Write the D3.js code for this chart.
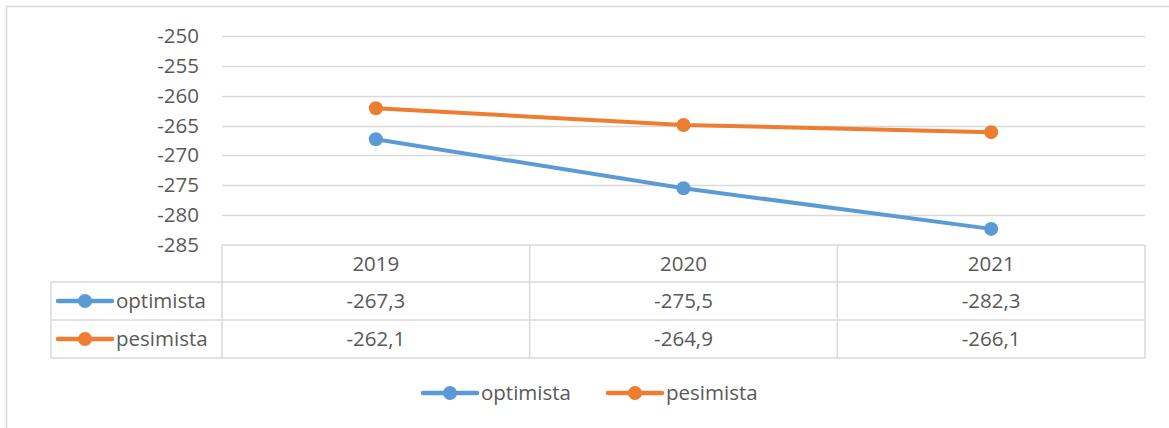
<!DOCTYPE html>
<html><head><meta charset="utf-8">
<script src="https://cdn.jsdelivr.net/npm/d3@7"></script>
<style>body{margin:0;background:#fff;} text{font-family:"Open Sans",Lato,sans-serif;fill:#595959;}</style>
</head><body><svg id="c" width="1169" height="428"></svg>
<script>
const categories = ["2019","2020","2021"];
const seriesNames = ["optimista","pesimista"];
const optimista = [-267.3,-275.5,-282.3];
const pesimista = [-262.1,-264.9,-266.1];
const tableLabels = [["-267,3","-275,5","-282,3"],["-262,1","-264,9","-266,1"]];
const yTicks = [-250,-255,-260,-265,-270,-275,-280,-285];
const colors = ["#5B9BD5","#ED7D31"];

const svg = d3.select("#c");
const grid = "#d9d9d9";
const fs = 20.5;
const ff = "'Open Sans',Lato,sans-serif";
svg.append("rect").attr("x",6.5).attr("y",6.5).attr("width",1200).attr("height",500)
  .attr("fill","none").attr("stroke",grid).attr("stroke-width",1.5);

const x0 = 222, x1 = 1145, yTop = 36, yBot = 245;
const x = d3.scaleBand().domain(categories).range([x0,x1]);
const y = d3.scaleLinear().domain([-285,-250]).range([yBot,yTop]);

// gridlines
svg.append("g").selectAll("line").data(yTicks.filter(d=>d!==-285)).join("line")
  .attr("x1",x0).attr("x2",x1).attr("y1",d=>Math.round(y(d))+0.5).attr("y2",d=>Math.round(y(d))+0.5)
  .attr("stroke",grid).attr("stroke-width",1.5);
// y axis labels
const yAxis = d3.axisLeft(y).tickValues(yTicks).tickSize(0).tickPadding(0).tickFormat(d=>d);
const ga = svg.append("g").attr("transform",`translate(${199},0)`).call(yAxis);
ga.select(".domain").remove();
ga.selectAll("text").attr("font-size",fs).attr("font-family",ff).attr("fill","#595959");

// table
const rowY = [245, 282, 320, 358];
const tl = 51;
const tg = svg.append("g").attr("stroke",grid).attr("stroke-width",1.5).attr("fill","none");
tg.append("line").attr("x1",x0).attr("x2",x1).attr("y1",rowY[0]).attr("y2",rowY[0]);
[1,2,3].forEach(i=>tg.append("line").attr("x1",tl).attr("x2",x1).attr("y1",rowY[i]).attr("y2",rowY[i]));
tg.append("line").attr("x1",tl).attr("x2",tl).attr("y1",rowY[1]).attr("y2",rowY[3]);
categories.forEach(c=>tg.append("line").attr("x1",x(c)).attr("x2",x(c)).attr("y1",rowY[0]).attr("y2",rowY[3]));
tg.append("line").attr("x1",x1).attr("x2",x1).attr("y1",rowY[0]).attr("y2",rowY[3]);

svg.append("g").selectAll("text").data(categories).join("text")
  .attr("x",d=>x(d)+x.bandwidth()/2).attr("y",(rowY[0]+rowY[1])/2).attr("dy","0.35em")
  .attr("text-anchor","middle").attr("font-size",fs).text(d=>d);
tableLabels.forEach((row,i)=>{
  svg.append("g").selectAll("text").data(row).join("text")
    .attr("x",(d,j)=>x(categories[j])+x.bandwidth()/2).attr("y",(rowY[i+1]+rowY[i+2])/2).attr("dy","0.35em")
    .attr("text-anchor","middle").attr("font-size",fs).text(d=>d);
});

function legendKey(g, cx, cy, color, name){
  g.append("line").attr("x1",cx-27).attr("x2",cx+27).attr("y1",cy).attr("y2",cy)
   .attr("stroke",color).attr("stroke-width",4.5).attr("stroke-linecap","round");
  g.append("circle").attr("cx",cx).attr("cy",cy).attr("r",7).attr("fill",color);
  g.append("text").attr("x",cx+31).attr("y",cy).attr("dy","0.35em").attr("font-size",fs).text(name);
}
seriesNames.forEach((n,i)=>legendKey(svg.append("g"),85,(rowY[i+1]+rowY[i+2])/2,colors[i],n));

// lines
const data = [optimista,pesimista];
const line = d3.line().x((d,i)=>x(categories[i])+x.bandwidth()/2).y(d=>y(d));
data.forEach((s,i)=>{
  svg.append("path").datum(s).attr("d",line).attr("fill","none").attr("stroke",colors[i])
    .attr("stroke-width",4).attr("stroke-linecap","round");
  svg.append("g").selectAll("circle").data(s).join("circle")
    .attr("cx",(d,j)=>x(categories[j])+x.bandwidth()/2).attr("cy",d=>y(d)).attr("r",7).attr("fill",colors[i]);
});

// bottom legend
legendKey(svg.append("g"),450,393,colors[0],seriesNames[0]);
legendKey(svg.append("g"),635,393,colors[1],seriesNames[1]);
</script></body></html>
